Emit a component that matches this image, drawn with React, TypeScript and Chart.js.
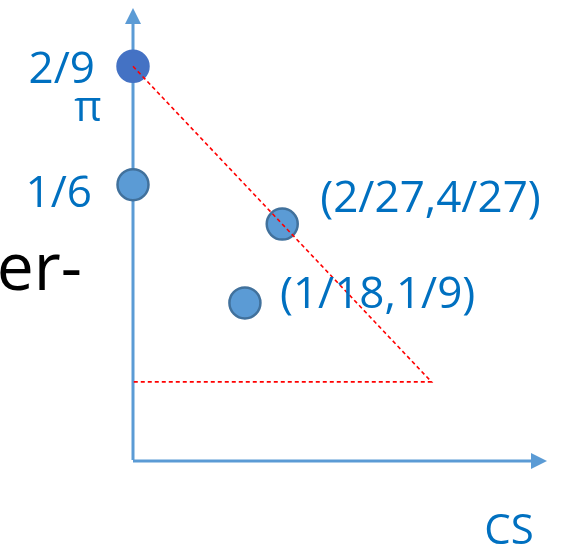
import { useEffect, useRef } from "react";
import { Chart, registerables } from "chart.js";

Chart.register(...registerables);

// Points in (CS, π) coordinates
const pointLabels = ["2/9", "1/6", "(2/27,4/27)", "(1/18,1/9)"];
const pointX = [0, 0, 2 / 27, 1 / 18];
const pointY = [2 / 9, 1 / 6, 4 / 27, 1 / 9];

// Red dashed boundary: π + CS = 2/9 down to the corner, then back along π = 2/27
const boundX = [0, 4 / 27, 0];
const boundY = [2 / 9, 2 / 27, 2 / 27];

const xAxisTitle = "CS";
const yAxisTitle = "π";
const sideText = "er-";

// Layout / style (not data)
const FONT = '"Open Sans", sans-serif';
const BLUE_TEXT = "#0070C0";
const AXIS_BLUE = "#5B9BD5";
const pointFill = ["#4472C4", "#5B9BD5", "#5B9BD5", "#5B9BD5"];
const pointBorder = ["#4472C4", "#41719C", "#41719C", "#41719C"];
// [dx, dyCenter, align] for each point label relative to its point
const labelPlacement: [number, number, CanvasTextAlign][] = [
  [-38, 1, "right"],
  [-41, 7, "right"],
  [38, -28, "left"],
  [35, -11, "left"],
];

const diagramPlugin = {
  id: "diagram",
  beforeDatasetsDraw(chart: any) {
    const { ctx, chartArea } = chart;
    const { left, right, top, bottom } = chartArea;
    ctx.save();
    ctx.strokeStyle = AXIS_BLUE;
    ctx.fillStyle = AXIS_BLUE;
    ctx.lineWidth = 3;
    ctx.lineCap = "butt";
    // y axis
    ctx.beginPath();
    ctx.moveTo(left, bottom - 1);
    ctx.lineTo(left, top + 14);
    ctx.stroke();
    ctx.beginPath();
    ctx.moveTo(left, top);
    ctx.lineTo(left - 8, top + 16);
    ctx.lineTo(left + 8, top + 16);
    ctx.closePath();
    ctx.fill();
    // x axis
    ctx.beginPath();
    ctx.moveTo(left, bottom);
    ctx.lineTo(right - 14, bottom);
    ctx.stroke();
    ctx.beginPath();
    ctx.moveTo(right, bottom);
    ctx.lineTo(right - 16, bottom - 8);
    ctx.lineTo(right - 16, bottom + 8);
    ctx.closePath();
    ctx.fill();
    ctx.restore();
  },
  afterDatasetsDraw(chart: any) {
    const { ctx, chartArea, scales } = chart;
    const xs = scales.x;
    const ys = scales.y;
    ctx.save();
    ctx.textBaseline = "alphabetic";
    ctx.fillStyle = BLUE_TEXT;
    ctx.font = `44px ${FONT}`;
    const digitHalf = (44 * 0.714) / 2;
    pointLabels.forEach((lab, i) => {
      const [dx, dy, align] = labelPlacement[i];
      const px = xs.getPixelForValue(pointX[i]);
      const py = ys.getPixelForValue(pointY[i]);
      ctx.textAlign = align;
      ctx.fillText(lab, px + dx, py + dy + digitHalf);
    });
    // π axis title under top label
    ctx.textAlign = "center";
    ctx.font = `42px ${FONT}`;
    ctx.fillText(yAxisTitle, chartArea.left - 45, ys.getPixelForValue(pointY[0]) + 55);
    // CS axis title
    ctx.font = `42px ${FONT}`;
    ctx.textAlign = "center";
    ctx.fillText(xAxisTitle, chartArea.right - 38, chartArea.bottom + 83);
    // stray slide text
    ctx.fillStyle = "#000000";
    ctx.font = `66px ${FONT}`;
    ctx.textAlign = "right";
    ctx.fillText(sideText, 82, 290);
    ctx.restore();
  },
};

export default function App() {
  const ref = useRef<HTMLCanvasElement | null>(null);
  useEffect(() => {
    document.body.style.margin = "0";
    const canvas = ref.current;
    if (!canvas) return;
    const chart = new Chart(canvas, {
      type: "scatter",
      data: {
        datasets: [
          {
            type: "line",
            data: boundX.map((x, i) => ({ x, y: boundY[i] })),
            borderColor: "#FF0000",
            borderWidth: 1.6,
            borderDash: [4, 3],
            pointRadius: 0,
            fill: false,
            tension: 0,
            clip: false,
          } as any,
          {
            data: pointX.map((x, i) => ({ x, y: pointY[i] })),
            pointRadius: 15.5,
            pointBackgroundColor: pointFill,
            pointBorderColor: pointBorder,
            pointBorderWidth: 2.5,
            pointHoverRadius: 15.5,
            clip: false,
          } as any,
        ],
      },
      options: {
        responsive: false,
        animation: false,
        events: [],
        layout: { autoPadding: false, padding: { left: 133, right: 15, top: 8, bottom: 87 } },
        plugins: { legend: { display: false }, tooltip: { enabled: false } },
        scales: {
          x: { type: "linear", display: false, min: 0, max: 0.2055 },
          y: { type: "linear", display: false, min: 0.0369, max: 0.2496 },
        },
      },
      plugins: [diagramPlugin],
    });
    return () => chart.destroy();
  }, []);
  return (
    <div style={{ position: "absolute", left: 0, top: 0, width: 562, height: 548, background: "#fff" }}>
      <canvas ref={ref} width={562} height={548} style={{ display: "block" }} />
    </div>
  );
}
